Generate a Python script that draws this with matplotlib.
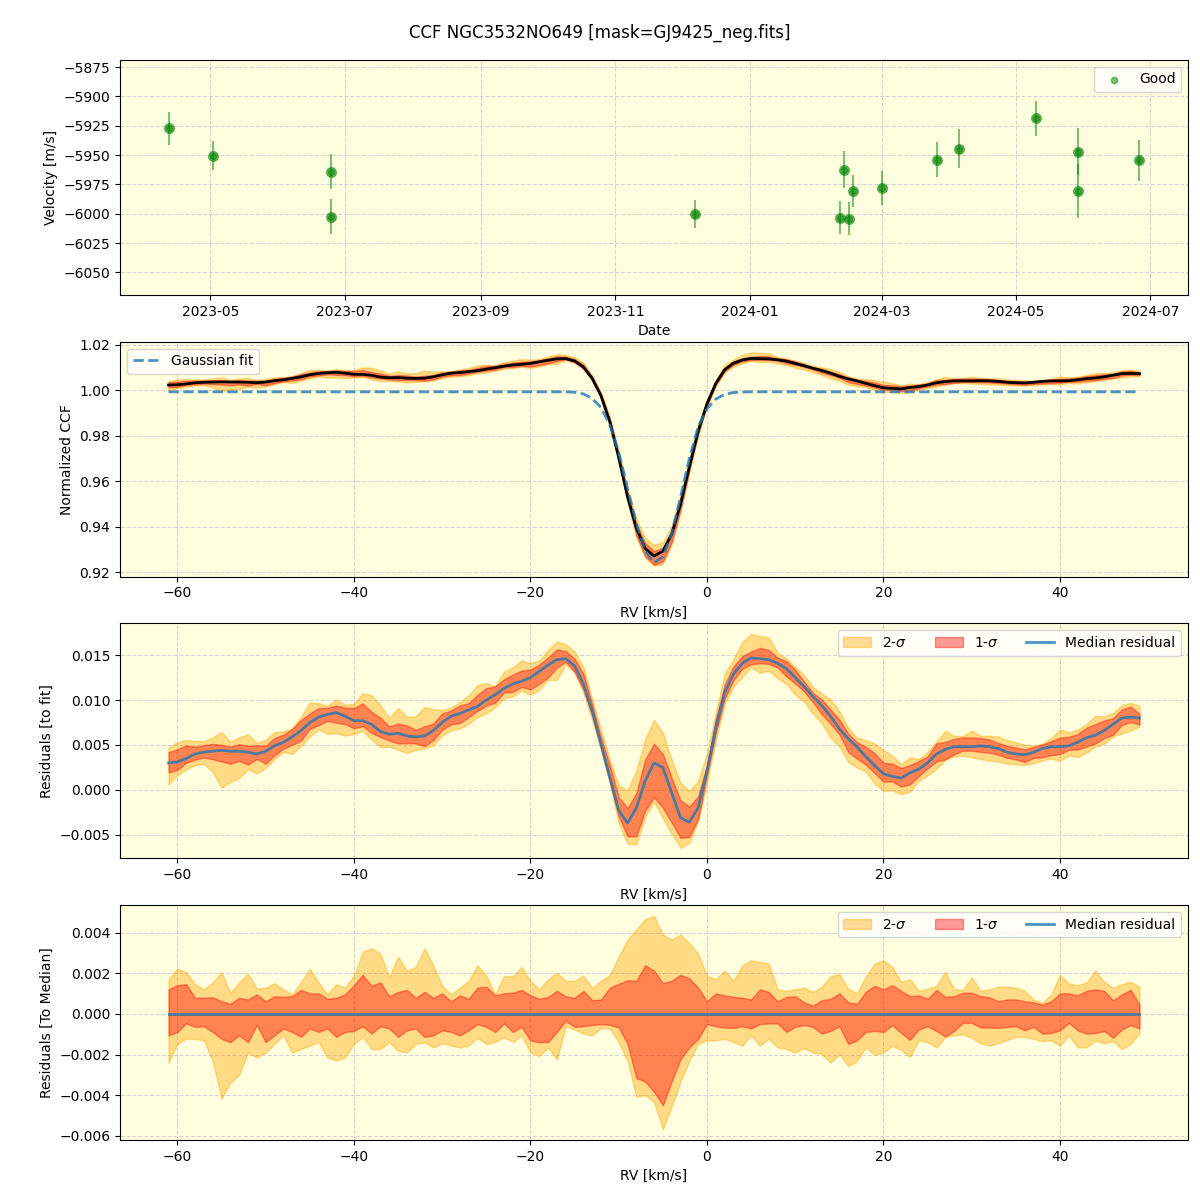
import numpy as np
import matplotlib
matplotlib.use('Agg')
import matplotlib.pyplot as plt
import matplotlib.dates as mdates
from datetime import datetime

# ---- RV time series (top panel) ----
obs_dates = ['2023-04-12', '2023-05-02', '2023-06-25', '2023-06-25', '2023-12-07',
             '2024-02-11', '2024-02-13', '2024-02-15', '2024-02-17', '2024-03-01',
             '2024-03-26', '2024-04-05', '2024-05-10', '2024-05-29', '2024-05-29',
             '2024-06-26']
rv_ms = [-5927.3, -5950.4, -5964.0, -6002.5, -6000.3, -6003.3, -5962.3, -6004.2,
         -5980.3, -5977.7, -5953.8, -5944.4, -5918.8, -5947.0, -5981.0, -5954.6]
rv_err = [14.0, 12.0, 14.6, 14.8, 12.2, 14.0, 15.6, 14.0, 13.5, 14.5, 14.8, 16.5,
          15.2, 20.0, 23.0, 17.8]

# ---- CCF grid, km/s (-61 .. 49) ----
rv_grid = np.arange(-61, 50)

ccf_median = [
    1.0024, 1.0025, 1.0029, 1.0034, 1.0036, 1.0037, 1.0038, 1.0037, 1.0037, 1.0036,  # -61..-52
    1.0034, 1.0037, 1.0043, 1.0047, 1.0053, 1.0060, 1.0069, 1.0075, 1.0078, 1.0080,  # -51..-42
    1.0076, 1.0071, 1.0071, 1.0067, 1.0059, 1.0056, 1.0057, 1.0054, 1.0053, 1.0054,  # -41..-32
    1.0060, 1.0069, 1.0076, 1.0079, 1.0083, 1.0087, 1.0094, 1.0100, 1.0107, 1.0112,  # -31..-22
    1.0115, 1.0119, 1.0126, 1.0133, 1.0139, 1.0140, 1.0130, 1.0103, 1.0053, 0.9976,  # -21..-12
    0.9862, 0.9705, 0.9533, 0.9395, 0.9305, 0.9272, 0.9293, 0.9367, 0.9499, 0.9664,  # -11..-2
    0.9820, 0.9941, 1.0031, 1.0091, 1.0120, 1.0134, 1.0141, 1.0140, 1.0139, 1.0135,  # -1..8
    1.0129, 1.0119, 1.0109, 1.0098, 1.0088, 1.0076, 1.0062, 1.0051, 1.0042, 1.0031,  # 9..18
    1.0021, 1.0012, 1.0009, 1.0007, 1.0013, 1.0017, 1.0024, 1.0034, 1.0039, 1.0042,  # 19..28
    1.0042, 1.0042, 1.0043, 1.0042, 1.0040, 1.0036, 1.0034, 1.0033, 1.0036, 1.0040,  # 29..38
    1.0042, 1.0042, 1.0043, 1.0047, 1.0052, 1.0055, 1.0060, 1.0067, 1.0074, 1.0075,  # 39..48
    1.0074]

gauss_fit = [0.9994] * 46 + [
    0.9992, 0.9985, 0.9965, 0.9925, 0.9848, 0.9728, 0.9570, 0.9415, 0.9295, 0.9242,  # -15..-6
    0.9268, 0.9370, 0.9530, 0.9700, 0.9840, 0.9920, 0.9962, 0.9983, 0.9991, 0.9993,  # -5..4
] + [0.9994] * 45

res_median = [
    0.0030, 0.0031, 0.0035, 0.0040, 0.0042, 0.0043, 0.0044, 0.0043, 0.0043, 0.0042,
    0.0040, 0.0043, 0.0049, 0.0053, 0.0059, 0.0066, 0.0075, 0.0081, 0.0084, 0.0086,
    0.0082, 0.0077, 0.0077, 0.0073, 0.0065, 0.0062, 0.0063, 0.0060, 0.0059, 0.0060,
    0.0066, 0.0075, 0.0082, 0.0085, 0.0089, 0.0093, 0.0100, 0.0106, 0.0113, 0.0118,
    0.0121, 0.0125, 0.0132, 0.0139, 0.0145, 0.0146, 0.0138, 0.0118, 0.0088, 0.0051,
    0.0014, -0.0023, -0.0037, -0.0020, 0.0010, 0.0030, 0.0025, -0.0003, -0.0031, -0.0036,
    -0.0020, 0.0021, 0.0069, 0.0108, 0.0129, 0.0141, 0.0147, 0.0146, 0.0145, 0.0141,
    0.0135, 0.0125, 0.0115, 0.0104, 0.0094, 0.0082, 0.0068, 0.0057, 0.0048, 0.0037,
    0.0027, 0.0018, 0.0015, 0.0013, 0.0019, 0.0023, 0.0030, 0.0040, 0.0045, 0.0048,
    0.0048, 0.0048, 0.0049, 0.0048, 0.0046, 0.0042, 0.0040, 0.0039, 0.0042, 0.0046,
    0.0048, 0.0048, 0.0049, 0.0053, 0.0058, 0.0061, 0.0066, 0.0073, 0.0080, 0.0081,
    0.0080]

# band edges relative to the median, in units of 1e-4
up2_e4 = [
    17.1, 22.2, 20.5, 14.6, 12.1, 15.5, 20.5, 10.4, 15.5, 19.7,
    12.4, 12.9, 15.1, 12.1, 9.6, 15.5, 22.2, 15.5, 9.6, 14.6,
    12.9, 18.8, 30.6, 32.3, 29.7, 18.0, 28.1, 21.3, 23.0, 32.3,
    23.9, 13.8, 9.6, 12.9, 16.3, 23.9, 18.8, 9.6, 18.5, 18.5,
    23.0, 16.3, 12.1, 17.1, 20.2, 16.3, 16.3, 18.8, 12.9, 16.3,
    19.2, 28.1, 36.5, 41.5, 46.6, 48.2, 39.0, 36.5, 39.0, 34.8,
    29.7, 18.8, 17.1, 21.3, 16.3, 23.9, 26.4, 25.5, 24.7, 12.1,
    11.3, 12.1, 12.9, 10.8, 13.4, 18.5, 19.7, 12.4, 10.1, 18.5,
    24.7, 26.4, 23.0, 15.8, 17.1, 11.3, 12.4, 13.8, 20.8, 12.1,
    11.8, 18.0, 11.3, 12.1, 13.4, 13.4, 12.9, 11.3, 7.1, 5.4,
    9.6, 19.2, 15.1, 14.1, 15.5, 21.3, 15.8, 12.9, 14.6, 15.8,
    13.4]
up1_e4 = [
    12.1, 14.1, 14.6, 7.9, 7.9, 8.2, 6.2, 5.0, 7.9, 7.1,
    9.6, 6.2, 8.7, 8.4, 8.7, 11.8, 10.1, 10.1, 7.4, 7.9,
    9.6, 14.1, 19.2, 13.8, 15.5, 8.7, 10.8, 11.8, 7.9, 10.8,
    7.9, 10.1, 6.2, 9.1, 7.4, 12.9, 13.4, 9.1, 10.1, 10.4,
    11.8, 9.1, 7.4, 8.4, 11.3, 8.7, 7.9, 11.3, 6.7, 7.1,
    12.9, 14.8, 16.6, 16.3, 23.9, 21.3, 15.1, 16.3, 19.2, 17.5,
    12.9, 6.2, 10.1, 9.1, 8.4, 7.9, 7.1, 12.1, 10.8, 6.2,
    8.4, 8.7, 5.7, 4.0, 6.7, 7.4, 10.1, 5.7, 5.0, 10.9,
    13.8, 12.1, 14.1, 11.3, 8.7, 9.1, 7.4, 11.8, 8.4, 8.7,
    10.4, 10.4, 8.7, 8.2, 6.2, 7.1, 7.1, 6.2, 5.7, 4.5,
    6.2, 10.1, 10.1, 9.1, 11.3, 12.1, 11.3, 6.7, 9.6, 11.8,
    4.5]
lo1_e4 = [
    -10.6, -8.9, -4.7, -6.4, -6.1, -8.9, -12.3, -13.9, -10.6, -13.9,
    -5.5, -13.9, -10.6, -7.2, -8.9, -11.3, -7.2, -8.9, -7.2, -11.3,
    -8.9, -8.4, -6.1, -9.7, -6.1, -7.2, -11.3, -8.1, -7.2, -11.3,
    -10.6, -8.1, -8.9, -10.6, -8.1, -5.0, -6.4, -8.9, -4.7, -8.9,
    -6.4, -13.1, -13.9, -13.9, -8.9, -3.4, -6.4, -6.1, -5.5, -5.0,
    -5.4, -6.7, -14.8, -31.6, -33.3, -38.3, -45.0, -33.3, -22.4, -16.5,
    -12.3, -5.0, -6.1, -6.7, -6.9, -6.1, -7.2, -5.0, -4.7, -4.7,
    -8.9, -6.4, -5.5, -6.4, -9.7, -8.4, -6.1, -14.8, -13.1, -8.9,
    -8.4, -8.9, -5.5, -9.4, -12.8, -7.7, -6.1, -8.4, -11.1, -8.4,
    -4.4, -4.4, -6.7, -6.7, -6.9, -6.4, -6.1, -8.1, -6.4, -9.7,
    -9.4, -8.1, -4.4, -8.1, -9.7, -9.4, -8.4, -11.8, -7.7, -5.5,
    -7.2]
lo2_e4 = [
    -24.0, -14.8, -12.3, -12.3, -13.1, -23.2, -41.7, -34.1, -29.9, -19.0,
    -21.5, -19.0, -14.8, -10.5, -19.0, -17.3, -15.6, -13.9, -21.5, -22.9,
    -21.5, -14.8, -11.3, -17.3, -17.3, -13.9, -18.2, -19.0, -14.8, -14.0,
    -16.5, -14.5, -15.6, -16.5, -15.6, -11.8, -14.8, -13.9, -11.4, -13.9,
    -10.6, -19.0, -20.7, -16.5, -22.4, -6.0, -7.7, -9.7, -10.6, -6.9,
    -7.2, -13.9, -23.2, -40.8, -40.0, -43.4, -56.8, -45.9, -33.3, -23.2,
    -14.8, -13.1, -13.1, -12.3, -13.9, -15.6, -10.6, -15.6, -12.3, -16.5,
    -17.3, -19.0, -16.8, -19.0, -19.8, -24.0, -19.8, -25.7, -23.2, -16.5,
    -20.2, -19.0, -15.6, -17.8, -21.2, -13.1, -13.9, -16.5, -11.4, -10.6,
    -10.1, -11.8, -14.5, -15.6, -14.5, -12.8, -11.4, -11.4, -12.3, -13.4,
    -13.1, -15.6, -10.6, -16.5, -16.5, -13.1, -14.5, -13.5, -17.3, -14.8,
    -9.7]

ccf_median = np.array(ccf_median)
gauss_fit = np.array(gauss_fit)
res_median = np.array(res_median)
up2 = np.array(up2_e4) * 1e-4
up1 = np.array(up1_e4) * 1e-4
lo1 = np.array(lo1_e4) * 1e-4
lo2 = np.array(lo2_e4) * 1e-4

bg = 'lightyellow'
grid_kw = dict(color='lightgray', linestyle='--', linewidth=0.8)

fig, axes = plt.subplots(4, 1, figsize=(12, 12), dpi=100)
fig.subplots_adjust(left=0.1, right=0.99, top=0.95, bottom=0.05, hspace=0.2)
fig.suptitle('CCF NGC3532NO649 [mask=GJ9425_neg.fits]', fontsize=12)

# top: velocities over time
ax = axes[0]
dates = [datetime.strptime(d, '%Y-%m-%d') for d in obs_dates]
ax.errorbar(dates, rv_ms, yerr=rv_err, fmt='o', color='green', alpha=0.5, ms=7)
ax.scatter(dates, rv_ms, color='green', alpha=0.5, s=20, label='Good')
ax.set_ylim(-6069, -5869)
ax.xaxis.set_major_locator(mdates.MonthLocator(bymonth=[1, 3, 5, 7, 9, 11]))
ax.xaxis.set_major_formatter(mdates.DateFormatter('%Y-%m'))
ax.set_xlabel('Date')
ax.set_ylabel('Velocity [m/s]')
ax.legend(loc='upper right')

# second: CCF with bands
ax = axes[1]
ax.fill_between(rv_grid, ccf_median + lo2, ccf_median + up2, color='orange', alpha=0.4)
ax.fill_between(rv_grid, ccf_median + lo1, ccf_median + up1, color='red', alpha=0.4)
ax.plot(rv_grid, ccf_median, color='black', lw=2)
ax.plot(rv_grid, gauss_fit, '--', color='tab:blue', alpha=0.8, lw=2, label='Gaussian fit')
ax.set_xlabel('RV [km/s]')
ax.set_ylabel('Normalized CCF')
ax.legend(loc='upper left')

# third: residuals to the fit
ax = axes[2]
ax.fill_between(rv_grid, res_median + lo2, res_median + up2, color='orange', alpha=0.4, label='2-$\\sigma$')
ax.fill_between(rv_grid, res_median + lo1, res_median + up1, color='red', alpha=0.4, label='1-$\\sigma$')
ax.plot(rv_grid, res_median, color='tab:blue', alpha=0.8, lw=2, label='Median residual')
ax.set_xlabel('RV [km/s]')
ax.set_ylabel('Residuals [to fit]')
ax.legend(loc='upper right', ncol=3)

# bottom: residuals to the median
ax = axes[3]
zero = np.zeros(len(rv_grid))
ax.fill_between(rv_grid, lo2, up2, color='orange', alpha=0.4, label='2-$\\sigma$')
ax.fill_between(rv_grid, lo1, up1, color='red', alpha=0.4, label='1-$\\sigma$')
ax.plot(rv_grid, zero, color='tab:blue', alpha=0.8, lw=2, label='Median residual')
ax.set_xlabel('RV [km/s]')
ax.set_ylabel('Residuals [To Median]')
ax.legend(loc='upper right', ncol=3)

for ax in axes:
    ax.set_facecolor(bg)
    ax.grid(True, **grid_kw)
    ax.set_axisbelow(True)

plt.savefig('out.png')
plt.close()
